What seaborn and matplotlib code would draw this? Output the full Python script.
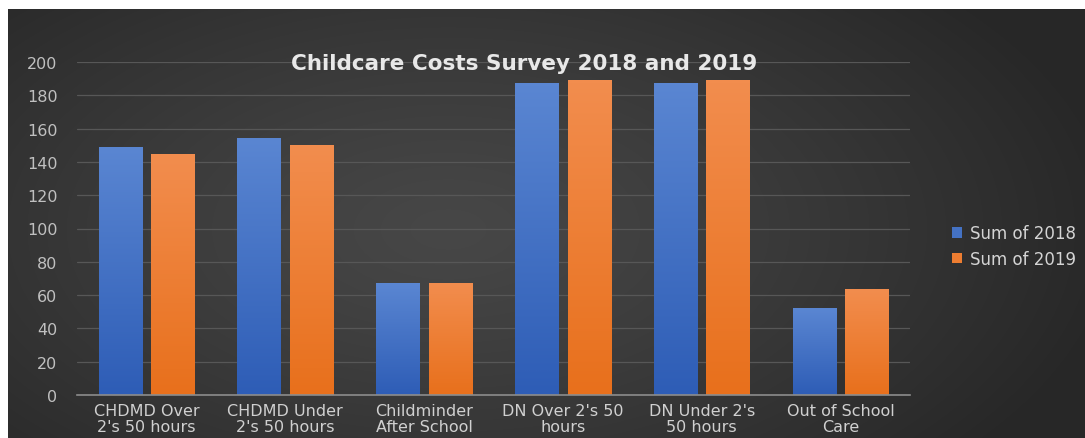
import numpy as np
import pandas as pd
import matplotlib
matplotlib.use("Agg")
import matplotlib.pyplot as plt
import seaborn as sns
from matplotlib.colors import LinearSegmentedColormap
from matplotlib.patches import Patch

categories = ["CHDMD Over\n2's 50 hours", "CHDMD Under\n2's 50 hours", "Childminder\nAfter School",
              "DN Over 2's 50\nhours", "DN Under 2's\n50 hours", "Out of School\nCare"]
sum_2018 = [149, 154.5, 67, 187.2, 187.5, 52]
sum_2019 = [144.5, 150, 67.3, 189, 189, 63.5]
series_names = ["Sum of 2018", "Sum of 2019"]
yticks = [0, 20, 40, 60, 80, 100, 120, 140, 160, 180, 200]
title = "Childcare Costs Survey 2018 and 2019"

df = pd.DataFrame({
    "category": categories * 2,
    "series": [series_names[0]] * len(categories) + [series_names[1]] * len(categories),
    "value": sum_2018 + sum_2019,
})

sns.set_theme(style="dark")
plt.rcParams["font.family"] = ["DejaVu Sans"]

W, H = 1085, 439
fig = plt.figure(figsize=(W / 100, H / 100), dpi=100)
fig.patch.set_facecolor("white")

# dark radial-gradient background panel
bg = fig.add_axes([8 / W, 0, 1 - 8 / W, 1 - 10 / H], zorder=0)
yy, xx = np.mgrid[0:429, 0:1077]
cx, cy = 440, 220
r = np.sqrt(((xx - cx) / 680.0) ** 2 + ((yy - cy) / 360.0) ** 2)
r = np.clip(r, 0, 1)
c_in, c_out = 0x47 / 255, 0x27 / 255
img = c_in + (c_out - c_in) * r ** 1.2
bg.imshow(np.dstack([img, img, img]), aspect="auto", interpolation="bilinear")
bg.set_axis_off()

ax = fig.add_axes([77 / W, 1 - 396 / H, (910 - 77) / W, (396 - 63) / H], zorder=1)
ax.set_facecolor("none")

palette = {series_names[0]: "#4472C4", series_names[1]: "#ED7D31"}
sns.barplot(data=df, x="category", y="value", hue="series", palette=palette,
            width=0.756, gap=0.18, legend=False, ax=ax, saturation=1, errorbar=None,
            linewidth=0, edgecolor="none")

grads = {
    series_names[0]: ("#5A86D2", "#2E5DB6"),
    series_names[1]: ("#F28D4E", "#E8701C"),
}
bars = [p for p in ax.patches]
n = len(categories)
for i, p in enumerate(bars[:2 * n]):
    s = series_names[0] if i < n else series_names[1]
    top_c, bot_c = grads[s]
    x0, y0 = p.get_x(), p.get_y()
    w, h = p.get_width(), p.get_height()
    cmap = LinearSegmentedColormap.from_list("g", [bot_c, top_c])
    grad = np.linspace(1, 0, 100).reshape(-1, 1)
    im = ax.imshow(grad, extent=[x0, x0 + w, y0, y0 + h], aspect="auto", cmap=cmap,
                   vmin=0, vmax=1, zorder=p.get_zorder() + 0.1, interpolation="bilinear")
    im.set_clip_path(p)
ax.set_xlim(-0.5, len(categories) - 0.5)
ax.set_ylim(0, 200)

ax.set_yticks(yticks)
ax.set_yticklabels([str(v) for v in yticks])
ax.yaxis.grid(True, color="#575757", linewidth=0.9)
ax.xaxis.grid(False)
ax.set_axisbelow(True)
for side in ["top", "right", "left"]:
    ax.spines[side].set_visible(False)
ax.spines["bottom"].set_color("#8c8c8c")
ax.spines["bottom"].set_linewidth(1.2)
ax.spines["bottom"].set_zorder(5)
ax.tick_params(axis="both", length=0, labelsize=11.5)
ax.tick_params(axis="y", pad=14, colors="#c0c0c0")
ax.tick_params(axis="x", pad=6, colors="#d0d0d0")
for lbl in ax.get_xticklabels():
    lbl.set_linespacing(1.02)
ax.set_xlabel("")
ax.set_ylabel("")

fig.text(524 / W, 1 - 64 / H, title, ha="center", va="center", fontsize=15.5,
         fontweight="bold", color="#e8e8e8", zorder=10)

handles = [Patch(facecolor=palette[s], edgecolor="none") for s in series_names]
leg = fig.legend(handles, series_names, loc="center left",
                 bbox_to_anchor=(937 / W, 1 - 247 / H), frameon=False,
                 handlelength=0.6, handleheight=0.6, handletextpad=0.45,
                 labelspacing=0.45, fontsize=12, labelcolor="#d4d4d4")
leg.set_zorder(10)

fig.savefig("out.png", dpi=100)
